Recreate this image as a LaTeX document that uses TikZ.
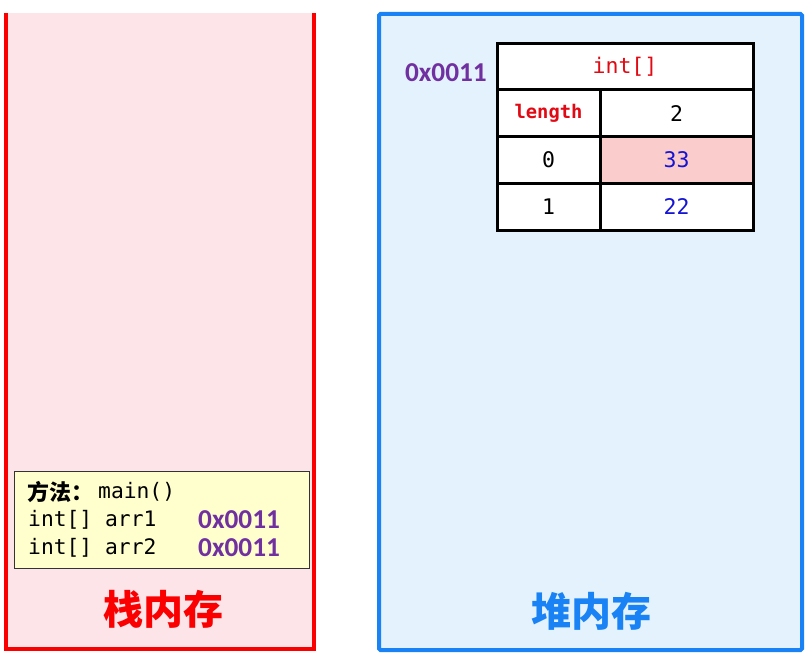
\documentclass[tikz,border=0pt]{standalone}
\usepackage{fontspec}
\setmonofont{DejaVu Sans Mono}
\newfontfamily\cjk{Noto Sans CJK SC}
\newfontfamily\calib{Carlito}
\definecolor{stackfill}{RGB}{253,228,233}
\definecolor{heapfill}{RGB}{228,242,253}
\definecolor{stackred}{RGB}{250,0,0}
\definecolor{heapblue}{RGB}{25,130,245}
\definecolor{framefill}{RGB}{255,255,206}
\definecolor{addrpurple}{RGB}{112,48,160}
\definecolor{hotcell}{RGB}{250,204,204}
\definecolor{numblue}{RGB}{20,20,210}
\definecolor{typered}{RGB}{225,10,20}
\tikzset{
  cell/.style={draw=black,fill=white,line width=3pt,inner sep=0pt,minimum height=46.75pt,font=\ttfamily\fontsize{21.5}{23}\selectfont},
  lcell/.style={cell,minimum width=103pt},
  rcell/.style={cell,minimum width=153pt},
  addr/.style={font=\calib\bfseries\fontsize{27.3}{30}\selectfont,text=addrpurple,inner sep=0pt},
  codeline/.style={font=\ttfamily\fontsize{21.3}{23}\selectfont,inner sep=0pt,anchor=west},
  bigtitle/.style={font=\cjk\bfseries\fontsize{40}{42}\selectfont,inner sep=0pt}
}
\begin{document}
\begin{tikzpicture}[x=1pt,y=-1pt]
\useasboundingbox (0,0) rectangle (811,658);
% stack area
\fill[stackfill] (6,13) rectangle (314,649);
\draw[stackred,line width=4.5pt] (6,13) -- (6,649) -- (314,649) -- (314,13);
% heap area
\draw[heapblue,fill=heapfill,line width=4pt,rounded corners=1.5pt] (379,14) rectangle (802,650);
% frame
\node[draw=black!80,fill=framefill,line width=1pt,minimum width=295pt,minimum height=97pt,inner sep=0pt] (frame) at (161.5,519.5) {};
\node[codeline,font=\cjk\bfseries\fontsize{22}{23}\selectfont] (m0) at (27,492) {方法：};
\node[codeline] (m) at (98,492) {main()};
\node[codeline] (a1) at (28,520) {int[] arr1};
\node[codeline] (a2) at (28,548) {int[] arr2};
\node[addr,anchor=west] (v1) at (198,520) {0x0011};
\node[addr,anchor=west] (v2) at (198,548) {0x0011};
\node[bigtitle,text=stackred] (st) at (163,609) {栈内存};
% heap table
\node[cell,minimum width=256pt,text=typered] (hdr) at (625,66.5) {int[]};
\node[lcell,text=typered,font=\ttfamily\bfseries\fontsize{18.8}{20}\selectfont] (len) at (548.5,113.25) {length};
\node[rcell] (lenv) at (676.5,113.25) {2};
\node[lcell] (i0) at (548.5,160) {0};
\node[rcell,fill=hotcell,text=numblue] (v0) at (676.5,160) {33};
\node[lcell] (i1) at (548.5,206.75) {1};
\node[rcell,text=numblue] (v1b) at (676.5,206.75) {22};
\node[addr,anchor=east] (haddr) at (487,73) {0x0011};
\node[bigtitle,text=heapblue] (hp) at (591,611) {堆内存};
\end{tikzpicture}
\end{document}
